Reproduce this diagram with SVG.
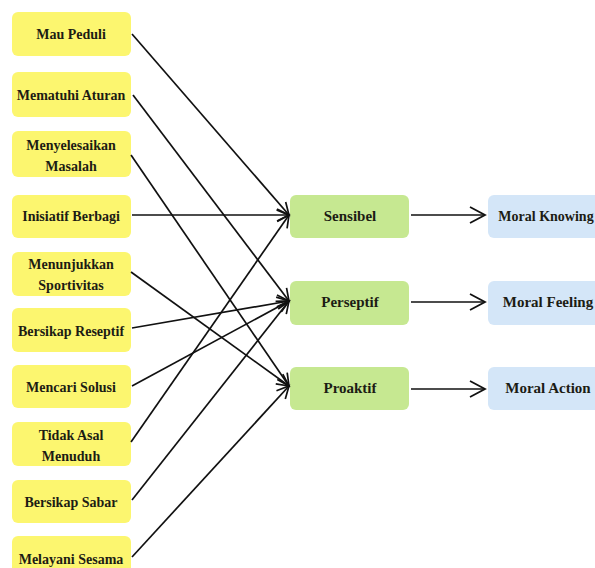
<svg xmlns="http://www.w3.org/2000/svg" width="595" height="568" viewBox="0 0 595 568">
<style>
.y{fill:#FCF66F;}
.g{fill:#C6E891;}
.b{fill:#D4E6F8;}
text{font-family:"Liberation Serif","Times New Roman",serif;font-weight:bold;fill:#1c1c14;text-anchor:middle;dominant-baseline:central;}
.s{font-size:14px;}
.m{font-size:15px;}
.c line{stroke:#111;stroke-width:1.7;fill:none;}
</style>
<defs>
<marker id="a" markerUnits="userSpaceOnUse" markerWidth="16" markerHeight="14" refX="13" refY="7" orient="auto">
<path d="M1,1 L13,7 L1,13" fill="none" stroke="#111" stroke-width="1.7"/>
</marker>
<marker id="a2" markerUnits="userSpaceOnUse" markerWidth="20" markerHeight="20" refX="17" refY="10" orient="auto">
<path d="M2,2 L17,10 L2,18" fill="none" stroke="#111" stroke-width="1.8"/>
</marker>
</defs>
<rect width="595" height="568" fill="#fff"/>
<g id="n1"><rect class="y" x="12" y="12" width="119" height="44" rx="6"/><text class="s" x="71" y="34">Mau Peduli</text></g>
<g id="n2"><rect class="y" x="12" y="72" width="119" height="45" rx="6"/><text class="s" x="71" y="95">Mematuhi Aturan</text></g>
<g id="n3"><rect class="y" x="12" y="131" width="119" height="46" rx="6"/><text class="s" x="71" y="145">Menyelesaikan</text><text class="s" x="71" y="166">Masalah</text></g>
<g id="n4"><rect class="y" x="12" y="195" width="119" height="43" rx="6"/><text class="s" x="71" y="216">Inisiatif Berbagi</text></g>
<g id="n5"><rect class="y" x="12" y="252" width="119" height="44" rx="6"/><text class="s" x="71" y="264">Menunjukkan</text><text class="s" x="71" y="285">Sportivitas</text></g>
<g id="n6"><rect class="y" x="12" y="308" width="119" height="44" rx="6"/><text class="s" x="71" y="331">Bersikap Reseptif</text></g>
<g id="n7"><rect class="y" x="12" y="365" width="119" height="43" rx="6"/><text class="s" x="71" y="387">Mencari Solusi</text></g>
<g id="n8"><rect class="y" x="12" y="422" width="119" height="44" rx="6"/><text class="s" x="71" y="435">Tidak Asal</text><text class="s" x="71" y="456">Menuduh</text></g>
<g id="n9"><rect class="y" x="12" y="480" width="119" height="43" rx="6"/><text class="s" x="71" y="502">Bersikap Sabar</text></g>
<g id="n10"><rect class="y" x="12" y="536" width="119" height="44" rx="6"/><text class="s" x="71" y="559">Melayani Sesama</text></g>
<g id="sensibel"><rect class="g" x="290" y="195" width="119" height="43" rx="6"/><text class="m" x="350" y="216">Sensibel</text></g>
<g id="perseptif"><rect class="g" x="290" y="281" width="119" height="44" rx="6"/><text class="m" x="350" y="302">Perseptif</text></g>
<g id="proaktif"><rect class="g" x="290" y="367" width="119" height="43" rx="6"/><text class="m" x="350" y="388">Proaktif</text></g>
<g id="knowing"><rect class="b" x="488" y="195" width="120" height="43" rx="6"/><text class="s" x="546" y="216">Moral Knowing</text></g>
<g id="feeling"><rect class="b" x="488" y="281" width="120" height="44" rx="6"/><text class="m" x="548" y="302">Moral Feeling</text></g>
<g id="action"><rect class="b" x="488" y="367" width="120" height="43" rx="6"/><text class="m" x="548" y="388">Moral Action</text></g>
<g id="connectors" class="c">
<line x1="132" y1="34" x2="289" y2="215" marker-end="url(#a)"/>
<line x1="133" y1="95" x2="289" y2="301" marker-end="url(#a)"/>
<line x1="131" y1="155" x2="289" y2="386" marker-end="url(#a)"/>
<line x1="132" y1="215" x2="289" y2="215" marker-end="url(#a)"/>
<line x1="131" y1="272" x2="289" y2="386" marker-end="url(#a)"/>
<line x1="132" y1="328" x2="289" y2="301" marker-end="url(#a)"/>
<line x1="132" y1="386" x2="289" y2="301" marker-end="url(#a)"/>
<line x1="131" y1="442" x2="289" y2="215" marker-end="url(#a)"/>
<line x1="132" y1="500" x2="289" y2="301" marker-end="url(#a)"/>
<line x1="132" y1="557" x2="289" y2="386" marker-end="url(#a)"/>
<line x1="411" y1="215" x2="485" y2="215" marker-end="url(#a2)"/>
<line x1="411" y1="302" x2="485" y2="302" marker-end="url(#a2)"/>
<line x1="411" y1="389" x2="485" y2="389" marker-end="url(#a2)"/>
</g>
</svg>
